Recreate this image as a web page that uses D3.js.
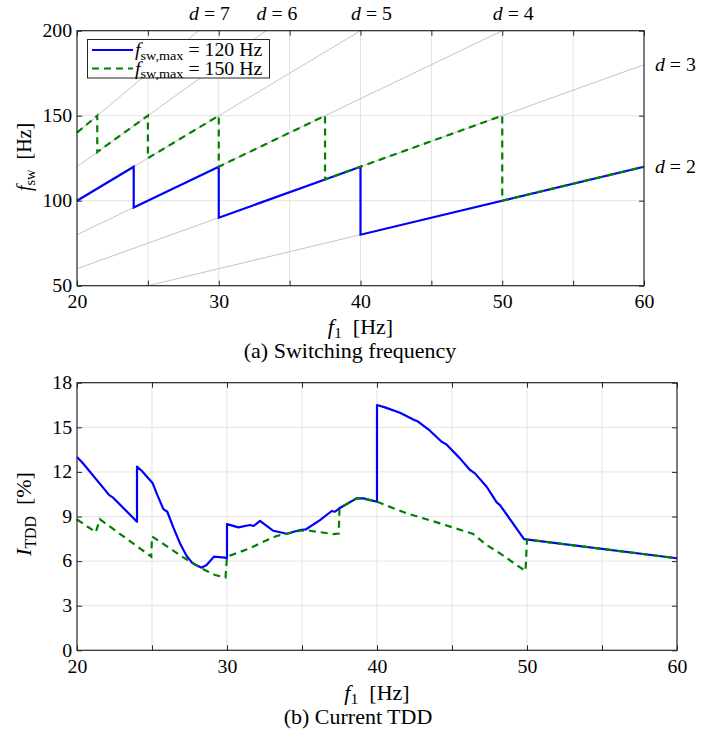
<!DOCTYPE html>
<html>
<head>
<meta charset="utf-8">
<script src="https://cdn.jsdelivr.net/npm/d3@7"></script>
<style>
  body { margin: 0; background: #fff; }
</style>
</head>
<body>
<div id="chart"></div>
<script>
// ====== data (top): switching frequency vs fundamental frequency ======
var f1Max120 = [20, 24, 24, 30, 30, 40, 40, 60];
var fswMax120 = [100, 120, 96, 120, 90, 120, 80, 120];
var f1Max150 = [20, 21.43, 21.43, 25, 25, 30, 30, 37.5, 37.5, 50, 50, 60];
var fswMax150 = [140, 150, 128.6, 150, 125, 150, 120, 150, 112.5, 150, 100, 120];
var dRatios = [2, 3, 4, 5, 6, 7];

// ====== data (bottom): current TDD ======
var tddF1Max120 = [20, 20.38, 22.15, 22.38, 24, 24, 24.31, 25.05, 25.36, 25.76, 26.02, 26.42, 26.87,
  27.31, 27.71, 27.93, 28.31, 28.64, 29.13, 29.87, 30, 30, 30.76, 31.53, 31.76, 32.2, 33.09, 33.98,
  34.87, 35.27, 36.2, 36.98, 37.2, 37.49, 38.64, 39.09, 40, 40, 40.53, 41.53, 42.42, 42.76, 43.53,
  44.31, 44.6, 45.53, 46.2, 46.53, 47.31, 47.98, 48.2, 48.98, 49.8, 60];
var tddMax120 = [13.0, 12.6, 10.44, 10.29, 8.65, 12.35, 12.08, 11.23, 10.44, 9.5, 9.32, 8.27, 7.19,
  6.34, 5.85, 5.74, 5.56, 5.74, 6.3, 6.23, 6.2, 8.49, 8.27, 8.43, 8.36, 8.7, 8.04, 7.84,
  8.09, 8.14, 8.76, 9.37, 9.32, 9.55, 10.22, 10.22, 9.99, 16.5, 16.34, 15.98, 15.53, 15.37, 14.77,
  14.03, 13.87, 12.91, 12.13, 11.9, 11.0, 9.95, 9.77, 8.65, 7.48, 6.19];
var tddF1Max150 = [20, 21.25, 21.53, 24.95, 25, 25.2, 27.09, 28.2, 29.2, 29.9, 30, 31.53, 32.42, 33.31,
  34.87, 35.53, 37.09, 37.45, 37.5, 38.64, 39.09, 40, 41.98, 44.2, 46.42, 47.31, 48.2, 49.09, 49.9,
  50, 60];
var tddMax150 = [8.8, 7.94, 8.81, 6.3, 7.65, 7.53, 6.25, 5.56, 5.06, 4.9, 6.3, 6.86, 7.3, 7.69,
  8.04, 8.04, 7.82, 7.85, 9.55, 10.22, 10.22, 9.99, 9.21, 8.54, 7.82, 7.08, 6.52, 5.89, 5.33,
  7.45, 6.19];

var xTicks = [20, 25, 30, 35, 40, 45, 50, 55, 60];
var yTicksTop = [50, 100, 150, 200];
var yTicksBottom = [0, 3, 6, 9, 12, 15, 18];

var serif = "'Liberation Serif', 'Times New Roman', Times, serif";
var stretch = 1.1; // the reference figure is slightly widened
var gap = "\u00a0\u00a0";

var svg = d3.select("#chart").append("svg")
  .attr("width", 721)
  .attr("height", 734)
  .style("font-family", serif);

var blue = "#0000ff", green = "#008000";

// grid lines for one panel
function drawFrame(g, x, y, yTicks) {
  var x0 = x.range()[0], x1 = x.range()[1];
  var y0 = y.range()[0], y1 = y.range()[1];

  g.append("g").selectAll("line").data(xTicks.slice(1, -1)).enter().append("line")
    .attr("x1", d => x(d)).attr("x2", d => x(d))
    .attr("y1", y0).attr("y2", y1)
    .attr("stroke", "#e3e3e3").attr("stroke-width", 1);
  g.append("g").selectAll("line").data(yTicks.slice(1, -1)).enter().append("line")
    .attr("x1", x0).attr("x2", x1)
    .attr("y1", d => y(d)).attr("y2", d => y(d))
    .attr("stroke", "#e3e3e3").attr("stroke-width", 1);
}

// box and inward ticks
function drawAxes(g, x, y, yTicks) {
  var x0 = x.range()[0], x1 = x.range()[1];
  var y0 = y.range()[0], y1 = y.range()[1];

  var axes = g.append("g");
  axes.append("g").attr("transform", `translate(0, ${y0})`)
    .call(d3.axisBottom(x).tickValues(xTicks).tickSize(-5).tickPadding(10)
      .tickFormat(d => d % 10 === 0 ? d : ""));
  axes.append("g").attr("transform", `translate(0, ${y1})`)
    .call(d3.axisTop(x).tickValues(xTicks).tickSize(-5).tickFormat(""));
  axes.append("g").attr("transform", `translate(${x0}, 0)`)
    .call(d3.axisLeft(y).tickValues(yTicks).tickSize(-5).tickPadding(4.5));
  axes.append("g").attr("transform", `translate(${x1}, 0)`)
    .call(d3.axisRight(y).tickValues(yTicks).tickSize(-5).tickFormat(""));

  axes.selectAll(".domain").remove();
  axes.selectAll(".tick line").attr("stroke", "#262626");
  axes.selectAll(".tick text")
    .style("font-family", serif).style("font-size", "18px").attr("fill", "#000")
    .attr("transform", `scale(${stretch}, 1)`);

  g.append("rect")
    .attr("x", x0).attr("y", y1)
    .attr("width", x1 - x0).attr("height", y0 - y1)
    .attr("fill", "none").attr("stroke", "#262626").attr("stroke-width", 1.2);
}

// text with italic symbol and roman subscript, e.g. f_sw [Hz]
function symbolText(g, transform, sym, sub, rest, size, anchor) {
  var t = g.append("g").attr("transform", transform)
    .append("text")
    .attr("text-anchor", anchor || "middle")
    .style("font-family", serif).style("font-size", size + "px");
  t.append("tspan").style("font-style", "italic").text(sym);
  t.append("tspan").attr("dy", size * 0.22).style("font-size", (size * 0.72) + "px").text(sub);
  t.append("tspan").attr("dy", -size * 0.22).text(rest);
  return t;
}

function plainText(g, x, y, str, size, anchor) {
  return g.append("g").attr("transform", `translate(${x}, ${y}) scale(${stretch}, 1)`)
    .append("text")
    .attr("text-anchor", anchor || "middle")
    .style("font-family", serif).style("font-size", size + "px")
    .text(str);
}

// ================= top panel =================
var xTop = d3.scaleLinear().domain([20, 60]).range([77, 644]);
var yTop = d3.scaleLinear().domain([50, 200]).range([285.7, 30.7]);
var topPanel = svg.append("g");
drawFrame(topPanel, xTop, yTop, yTicksTop);

topPanel.append("defs").append("clipPath").attr("id", "clipTop")
  .append("rect").attr("x", 77).attr("y", 30.7).attr("width", 567).attr("height", 255);

// constant pulse ratio guides: fsw = d * f1
topPanel.append("g").attr("clip-path", "url(#clipTop)")
  .selectAll("line").data(dRatios).enter().append("line")
  .attr("x1", xTop(20)).attr("y1", d => yTop(20 * d))
  .attr("x2", xTop(60)).attr("y2", d => yTop(60 * d))
  .attr("stroke", "#bdbdbd").attr("stroke-width", 0.9);

var lineTop = d3.line().x(d => xTop(d[0])).y(d => yTop(d[1]));
topPanel.append("path")
  .datum(d3.zip(f1Max120, fswMax120))
  .attr("d", lineTop)
  .attr("fill", "none").attr("stroke", blue).attr("stroke-width", 2.2);
topPanel.append("path")
  .datum(d3.zip(f1Max150, fswMax150))
  .attr("d", lineTop)
  .attr("fill", "none").attr("stroke", green).attr("stroke-width", 2.2)
  .attr("stroke-dasharray", "7,5");

drawAxes(topPanel, xTop, yTop, yTicksTop);

// d = n labels
function dLabel(g, x, y, n, anchor) {
  var t = g.append("g").attr("transform", `translate(${x}, ${y}) scale(${stretch}, 1)`)
    .append("text")
    .attr("text-anchor", anchor)
    .style("font-family", serif).style("font-size", "18px");
  t.append("tspan").style("font-style", "italic").text("d");
  t.append("tspan").text(" = " + n);
}
[7, 6, 5, 4].forEach(function(d) {
  dLabel(topPanel, xTop(200 / d) + 11, 20, d, "middle");
});
[3, 2].forEach(function(d) {
  dLabel(topPanel, 655, yTop(60 * d) + 6, d, "start");
});

// legend
var legend = topPanel.append("g");
legend.append("rect")
  .attr("x", 87.5).attr("y", 39.5).attr("width", 182).attr("height", 38.5)
  .attr("fill", "#fff").attr("stroke", "#262626").attr("stroke-width", 1);
var legendItems = [
  { value: "120", color: blue, dash: null },
  { value: "150", color: green, dash: "7,5" }
];
legendItems.forEach(function(item, i) {
  var ly = 50 + i * 18.5;
  legend.append("line")
    .attr("x1", 92).attr("x2", 133).attr("y1", ly).attr("y2", ly)
    .attr("stroke", item.color).attr("stroke-width", 2.2)
    .attr("stroke-dasharray", item.dash);
  symbolText(legend, `translate(135, ${ly + 6}) scale(${stretch}, 1)`,
    "f", "sw,max", " = " + item.value + " Hz", 18, "start");
});

// axis labels
symbolText(topPanel, "translate(31, 157) rotate(-90)", "f", "sw", gap + "[Hz]", 20);
symbolText(topPanel, `translate(${xTop(40)}, 334) scale(${stretch}, 1)`, "f", "1", gap + "[Hz]", 20);
plainText(topPanel, 350, 358, "(a)  Switching frequency", 20);

// ================= bottom panel =================
var xBot = d3.scaleLinear().domain([20, 60]).range([77, 677]);
var yBot = d3.scaleLinear().domain([0, 18]).range([650.3, 382.7]);
var bottomPanel = svg.append("g");
drawFrame(bottomPanel, xBot, yBot, yTicksBottom);

var lineBot = d3.line().x(d => xBot(d[0])).y(d => yBot(d[1]));
bottomPanel.append("path")
  .datum(d3.zip(tddF1Max120, tddMax120))
  .attr("d", lineBot)
  .attr("fill", "none").attr("stroke", blue).attr("stroke-width", 2.2)
  .attr("stroke-linejoin", "round");
bottomPanel.append("path")
  .datum(d3.zip(tddF1Max150, tddMax150))
  .attr("d", lineBot)
  .attr("fill", "none").attr("stroke", green).attr("stroke-width", 2.2)
  .attr("stroke-dasharray", "7,5");

drawAxes(bottomPanel, xBot, yBot, yTicksBottom);

symbolText(bottomPanel, "translate(31, 514) rotate(-90)", "I", "TDD", gap + "[%]", 22);
symbolText(bottomPanel, `translate(${xBot(40)}, 700) scale(${stretch}, 1)`, "f", "1", gap + "[Hz]", 20);
plainText(bottomPanel, 358, 724, "(b)  Current TDD", 20);
</script>
</body>
</html>
